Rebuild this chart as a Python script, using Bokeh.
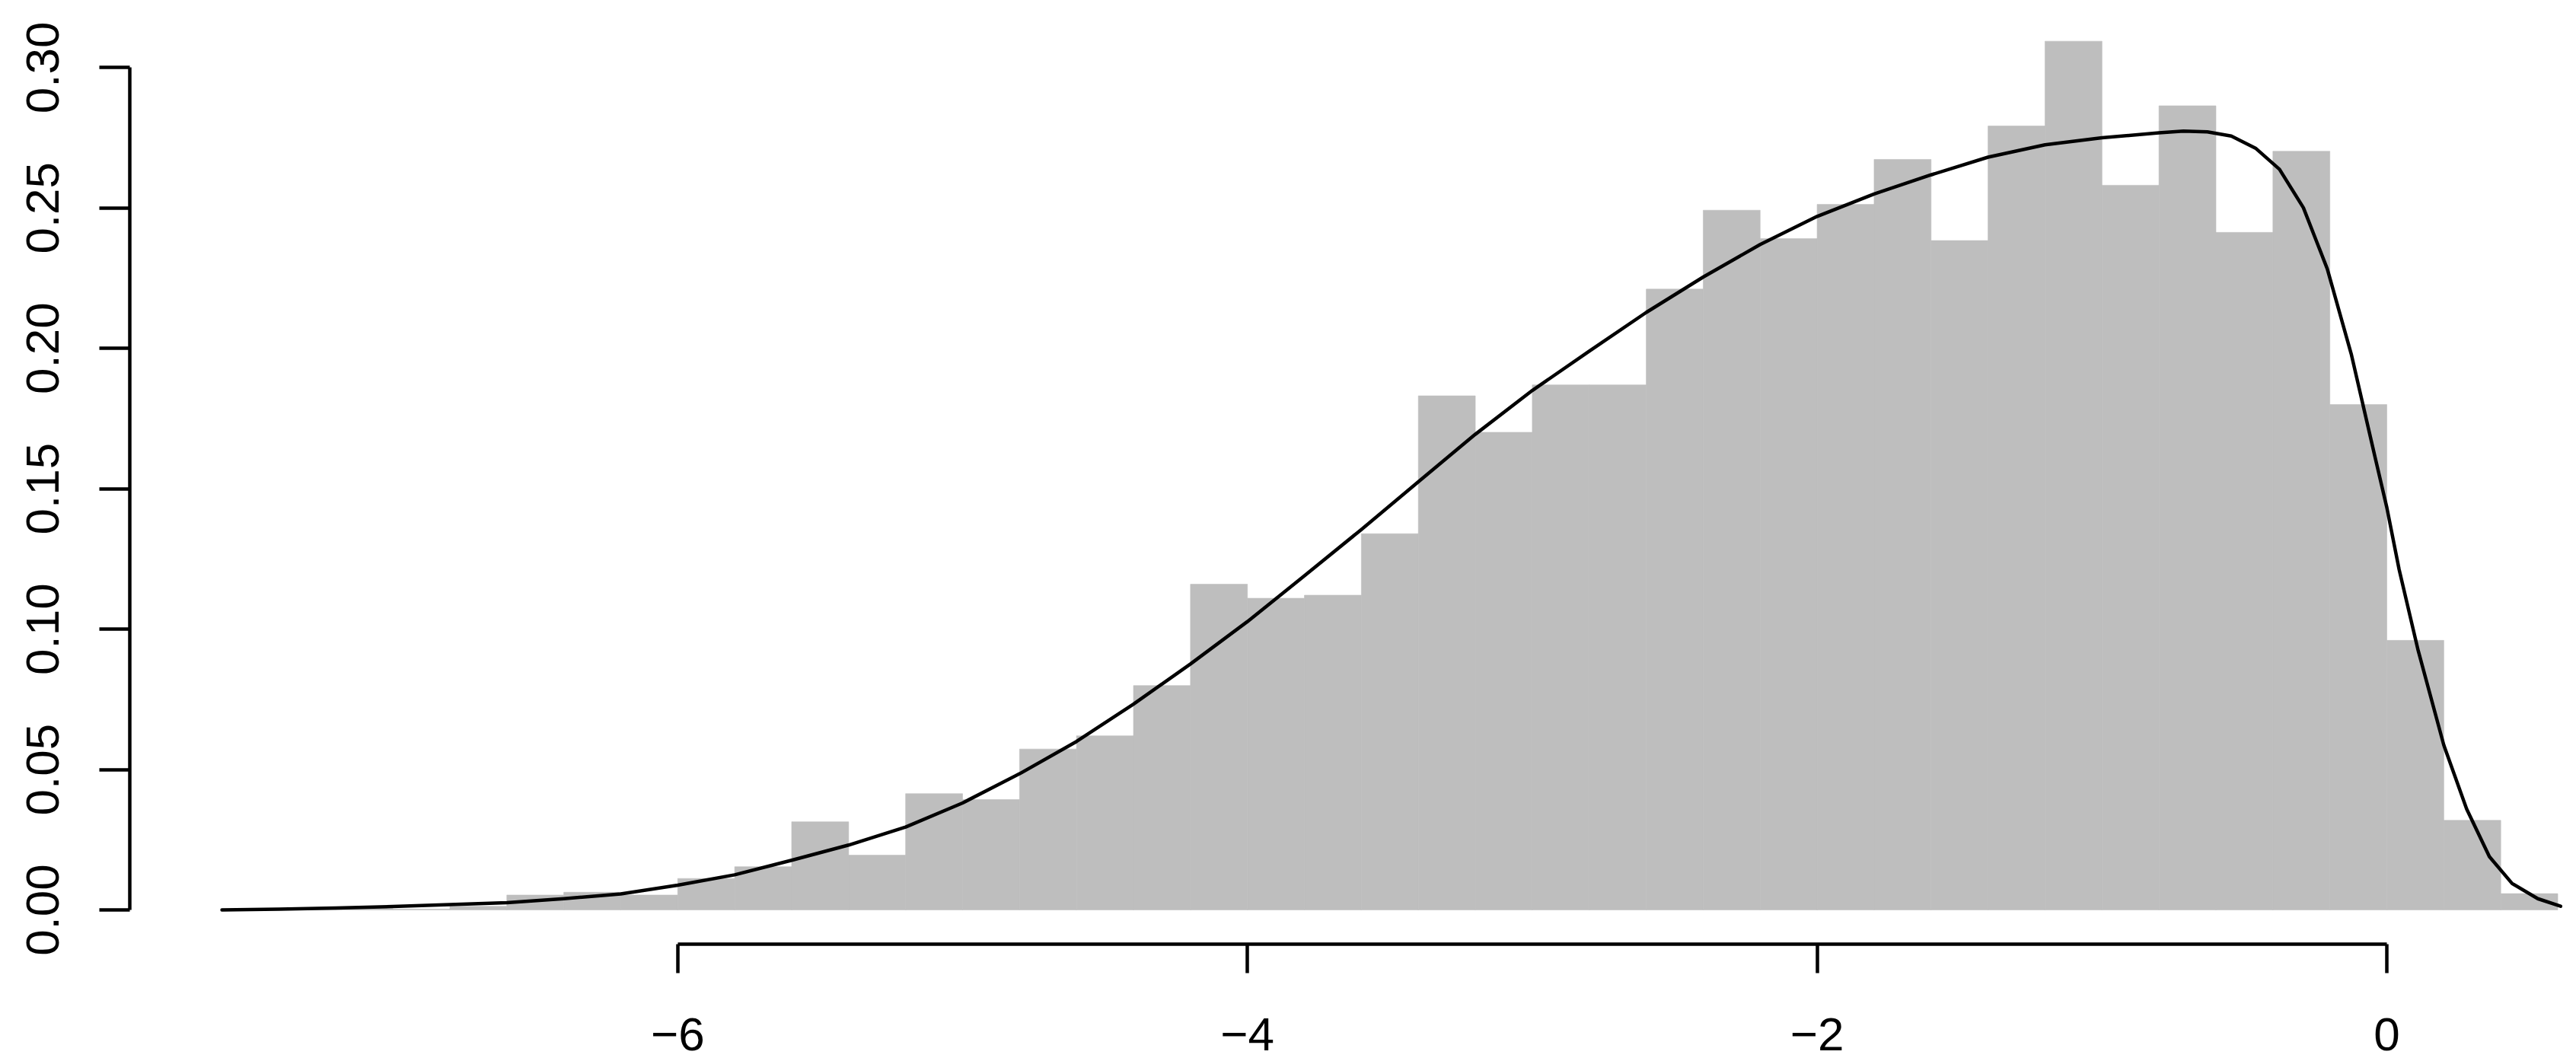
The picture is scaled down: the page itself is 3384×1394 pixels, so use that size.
from bokeh.plotting import figure
from bokeh.models import Range1d, FixedTicker, NumeralTickFormatter
from bokeh.embed import file_html
from bokeh.resources import INLINE

# Histogram (density scale), bin width 0.2
bin_left = [-7.6, -7.4, -7.2, -7.0, -6.8, -6.6, -6.4, -6.2, -6.0, -5.8,
            -5.6, -5.4, -5.2, -5.0, -4.8, -4.6, -4.4, -4.2, -4.0, -3.8,
            -3.6, -3.4, -3.2, -3.0, -2.8, -2.6, -2.4, -2.2, -2.0, -1.8,
            -1.6, -1.4, -1.2, -1.0, -0.8, -0.6, -0.4, -0.2, 0.0, 0.2, 0.4]
bin_right = [-7.4, -7.2, -7.0, -6.8, -6.6, -6.4, -6.2, -6.0, -5.8, -5.6,
             -5.4, -5.2, -5.0, -4.8, -4.6, -4.4, -4.2, -4.0, -3.8, -3.6,
             -3.4, -3.2, -3.0, -2.8, -2.6, -2.4, -2.2, -2.0, -1.8, -1.6,
             -1.4, -1.2, -1.0, -0.8, -0.6, -0.4, -0.2, 0.0, 0.2, 0.4, 0.6]
density = [0.0003, 0.0003, 0.0005, 0.0003, 0.0013, 0.0053, 0.0063, 0.0053, 0.0112, 0.0154,
           0.0314, 0.0195, 0.0414, 0.0393, 0.0573, 0.0620, 0.0799, 0.1160, 0.1110, 0.1121,
           0.1340, 0.1831, 0.1701, 0.1870, 0.1870, 0.2211, 0.2492, 0.2391, 0.2513, 0.2673,
           0.2384, 0.2792, 0.3094, 0.2581, 0.2864, 0.2413, 0.2702, 0.1800, 0.0960, 0.0319, 0.0058]

# Density curve
curve_x = [-7.6, -7.4, -7.2, -7.0, -6.8, -6.6, -6.4, -6.2, -6.0, -5.8,
           -5.6, -5.4, -5.2, -5.0, -4.8, -4.6, -4.4, -4.2, -4.0, -3.8,
           -3.6, -3.4, -3.2, -3.0, -2.8, -2.6, -2.4, -2.2, -2.0, -1.8,
           -1.6, -1.4, -1.2, -1.0, -0.8, -0.714, -0.63, -0.546, -0.461, -0.377,
           -0.293, -0.209, -0.125, -0.041, 0.0, 0.043, 0.11, 0.20, 0.28, 0.36,
           0.44, 0.53, 0.61]
curve_y = [0.0000, 0.0003, 0.0007, 0.0012, 0.0019, 0.0026, 0.0040, 0.0057, 0.0088, 0.0125,
           0.0177, 0.0231, 0.0295, 0.0381, 0.0485, 0.0600, 0.0733, 0.0876, 0.1027, 0.1190,
           0.1355, 0.1525, 0.1694, 0.1850, 0.1990, 0.2128, 0.2254, 0.2370, 0.2470, 0.2550,
           0.2618, 0.2681, 0.2725, 0.2750, 0.2768, 0.2774, 0.2771, 0.2756, 0.2713, 0.2638,
           0.2501, 0.2283, 0.1980, 0.1611, 0.1433, 0.1213, 0.0924, 0.0587, 0.0360, 0.0190,
           0.0094, 0.0040, 0.0013]

x_ticks = [-6, -4, -2, 0]
x_tick_labels = ["\u22126", "\u22124", "\u22122", "0"]
y_ticks = [0.0, 0.05, 0.10, 0.15, 0.20, 0.25, 0.30]
x_axis_at = -0.0122   # R-style offset axis, 4% below zero

FONT = "Liberation Sans"
LW = 4.5

p = figure(width=3384, height=1394,
           x_range=Range1d(-7.9236, 0.6654), y_range=Range1d(-0.05394, 0.32177),
           output_backend="svg", toolbar_location=None,
           min_border_left=170, min_border_right=0, min_border_top=8, min_border_bottom=0)
p.grid.visible = False
p.outline_line_color = None
p.background_fill_color = "white"
p.border_fill_color = "white"

p.quad(left=bin_left, right=bin_right, bottom=0, top=density,
       fill_color="#BEBEBE", line_color="#BEBEBE", line_width=0.6)
p.line(curve_x, curve_y, line_color="black", line_width=LW,
       line_join="round", line_cap="round")

xa = p.xaxis[0]
xa.ticker = FixedTicker(ticks=x_ticks)
xa.bounds = (-6, 0)
xa.fixed_location = x_axis_at
xa.major_label_overrides = {t: l for t, l in zip(x_ticks, x_tick_labels)}
ya = p.yaxis[0]
ya.ticker = FixedTicker(ticks=y_ticks)
ya.bounds = (0, 0.30)
ya.formatter = NumeralTickFormatter(format="0.00")
ya.major_label_orientation = "vertical"

for ax in (xa, ya):
    ax.axis_line_color = "black"
    ax.axis_line_width = LW
    ax.major_tick_line_color = "black"
    ax.major_tick_line_width = LW
    ax.major_tick_in = 0
    ax.minor_tick_line_color = None
    ax.major_label_text_font = FONT
    ax.major_label_text_font_size = "62px"
    ax.major_label_text_color = "black"
xa.major_tick_out = 38
xa.major_label_standoff = 59
ya.major_tick_out = 40
ya.major_label_standoff = 53

open("out.html", "w").write(file_html(p, INLINE))
